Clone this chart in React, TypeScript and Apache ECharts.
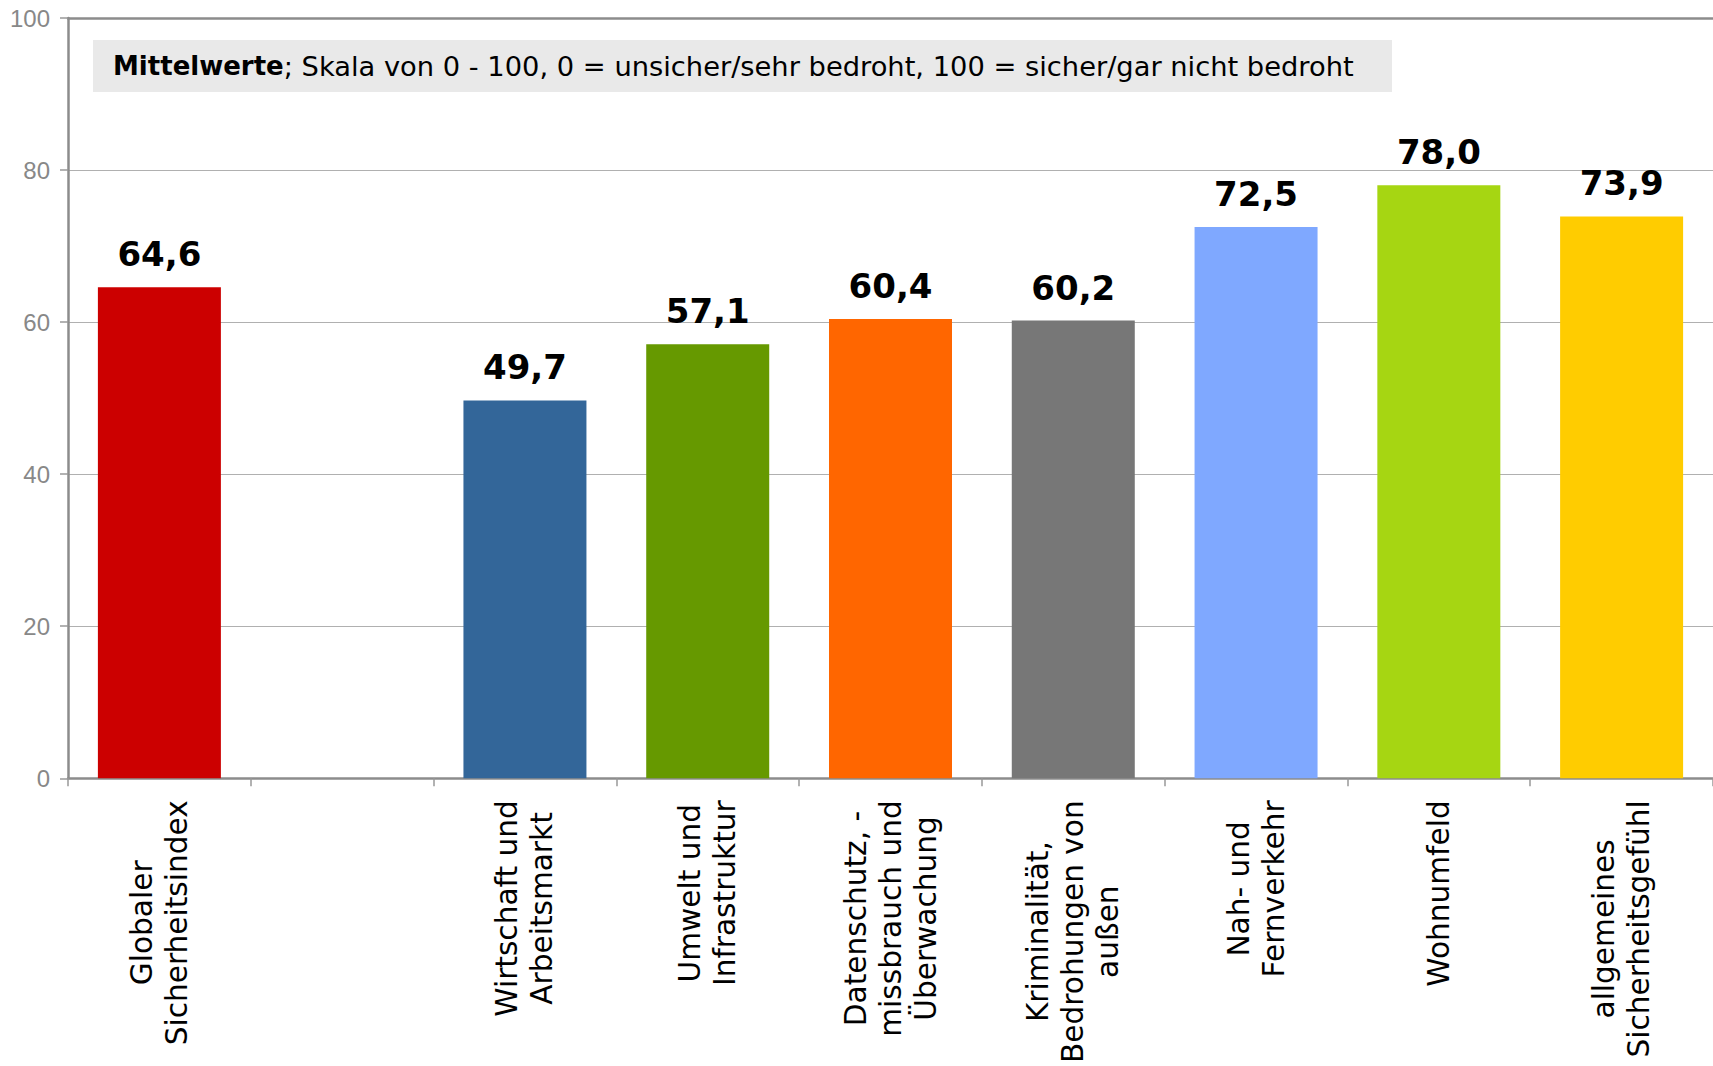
import React, { useEffect, useRef } from 'react';
import * as echarts from 'echarts';

const categories = [
  'Globaler\nSicherheitsindex',
  '',
  'Wirtschaft und\nArbeitsmarkt',
  'Umwelt und\nInfrastruktur',
  'Datenschutz, -\nmissbrauch und\nÜberwachung',
  'Kriminalität,\nBedrohungen von\naußen',
  'Nah- und\nFernverkehr',
  'Wohnumfeld',
  'allgemeines\nSicherheitsgefühl',
];
const values: (number | null)[] = [64.6, null, 49.7, 57.1, 60.4, 60.2, 72.5, 78.0, 73.9];
const barColors = ['#CC0000', '#ffffff', '#336699', '#669900', '#FF6600', '#777777', '#7FA8FF', '#A6D612', '#FFCC00'];
const yMin = 0;
const yMax = 100;
const yInterval = 20;
const titleBold = 'Mittelwerte';
const titleRest = '; Skala von 0 - 100, 0 = unsicher/sehr bedroht, 100 = sicher/gar nicht bedroht';

export default function App() {
  const ref = useRef<HTMLDivElement>(null);
  useEffect(() => {
    if (!ref.current) return;
    const chart = echarts.init(ref.current, undefined, { renderer: 'svg' });
    const font = 'DejaVu Sans';
    chart.setOption({
      animation: false,
      backgroundColor: '#ffffff',
      grid: { left: 68, top: 18, width: 1650, height: 763, containLabel: false },
      xAxis: [
        {
          type: 'category',
          data: categories,
          position: 'bottom',
          axisLine: { show: true, lineStyle: { color: '#8c8c8c', width: 2.5 } },
          axisTick: { show: true, length: 8, lineStyle: { color: '#999999', width: 1.5 } },
          axisLabel: {
            interval: 0,
            rotate: 90,
            margin: 22,
            color: '#000',
            formatter: (v: string) => (v ? v.split('\n').map((l) => `{c|${l}}`).join('\n') : ''),
            rich: {
              c: { align: 'center', fontFamily: font, fontSize: 29.6, lineHeight: 35, color: '#000' },
            },
          },
        },
        {
          type: 'category',
          data: categories,
          position: 'top',
          axisLine: { show: true, lineStyle: { color: '#8c8c8c', width: 2.5 } },
          axisTick: { show: false },
          axisLabel: { show: false },
        },
      ],
      yAxis: {
        type: 'value',
        min: yMin,
        max: yMax,
        interval: yInterval,
        axisLine: { show: true, lineStyle: { color: '#8c8c8c', width: 2.5 } },
        axisTick: { show: true, length: 8, lineStyle: { color: '#999999', width: 1.5 } },
        axisLabel: { color: '#888888', fontFamily: 'Liberation Sans', fontSize: 24, margin: 18 },
        splitLine: { show: true, lineStyle: { color: '#b0b0b0', width: 1.2 } },
      },
      graphic: [
        {
          type: 'rect',
          shape: { x: 93, y: 40, width: 1299, height: 52 },
          style: { fill: '#E9E9E9' },
          z: 10,
        },
        {
          type: 'text',
          x: 113,
          y: 66,
          z: 11,
          style: {
            text: `{b|${titleBold}}{r|${titleRest}}`,
            verticalAlign: 'middle',
            rich: {
              b: { fontFamily: font, fontWeight: 'bold', fontSize: 26, fill: '#000' },
              r: { fontFamily: font, fontSize: 27.3, fill: '#000' },
            },
          },
        },
      ],
      series: [
        {
          type: 'bar',
          xAxisIndex: 0,
          barWidth: 123,
          data: values.map((v, i) => (v == null ? '-' : { value: v, itemStyle: { color: barColors[i] } })),
          label: {
            show: true,
            position: 'top',
            distance: 16,
            fontFamily: font,
            fontWeight: 'bold',
            fontSize: 34,
            color: '#000',
            formatter: (p: any) => Number(p.value).toFixed(1).replace('.', ','),
          },
        },
      ],
    });
    return () => chart.dispose();
  }, []);
  return (
    <div
      ref={ref}
      style={{ position: 'absolute', left: 0, top: 0, width: 1713, height: 1066, overflow: 'hidden' }}
    />
  );
}
